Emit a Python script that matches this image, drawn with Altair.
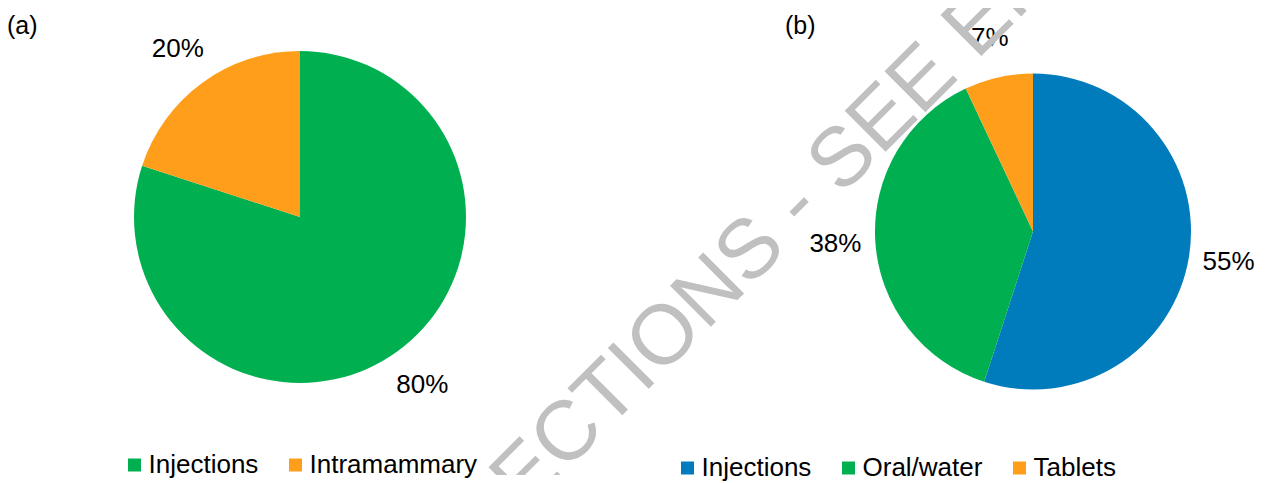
import altair as alt
import pandas as pd

# ---- data ----
a_cats = ["Injections", "Intramammary"]
a_vals = [80, 20]
a_labels = ["80%", "20%"]
a_colors = ["#00B050", "#FF9E1B"]

b_cats = ["Injections", "Oral/water", "Tablets"]
b_vals = [55, 38, 7]
b_labels = ["55%", "38%", "7%"]
b_colors = ["#007BBB", "#00B050", "#FF9E1B"]

panel_tags = ["(a)", "(b)"]
watermark = ["CORRECTIONS - SEE ERRATUM"]

FONT = "Liberation Sans"

dfa = pd.DataFrame({"cat": a_cats, "val": a_vals, "label": a_labels, "idx": list(range(len(a_cats)))})
dfb = pd.DataFrame({"cat": b_cats, "val": b_vals, "label": b_labels, "idx": list(range(len(b_cats)))})


def pie(df, cats, colors, cx, cy, r, lr, legx, legy):
    base = alt.Chart(df).encode(
        theta=alt.Theta("val:Q", stack=True),
        order=alt.Order("idx:Q"),
        x=alt.value(cx),
        y=alt.value(cy),
    )
    arc = base.mark_arc(outerRadius=r, strokeWidth=0).encode(
        color=alt.Color(
            "cat:N",
            sort=cats,
            scale=alt.Scale(domain=cats, range=colors),
            legend=alt.Legend(
                title=None,
                orient="none",
                legendX=legx,
                legendY=legy,
                direction="horizontal",
                columns=len(cats),
                symbolType="square",
                symbolSize=169,
                symbolStrokeWidth=0,
                labelFont=FONT,
                labelFontSize=26,
                labelColor="black",
                labelOffset=1,
                columnPadding=24,
                labelLimit=0,
                padding=0,
            ),
        )
    )
    txt = base.mark_text(radius=lr, fontSize=26, font=FONT, color="black",
                         align="center", baseline="middle").encode(
        text="label:N",
        detail="cat:N",
    )
    return arc, txt


arcA, txtA = pie(dfa, a_cats, a_colors, 292, 209, 166, 208, 113.5, 444)
arcB, txtB = pie(dfb, b_cats, b_colors, 1025, 223.5, 158, 198, 666.5, 447)

tagA = alt.Chart(pd.DataFrame({"t": [panel_tags[0]]})).mark_text(
    fontSize=25, font=FONT, color="black", align="left", baseline="alphabetic"
).encode(text="t:N", x=alt.value(-1), y=alt.value(26))
tagB = alt.Chart(pd.DataFrame({"t": [panel_tags[1]]})).mark_text(
    fontSize=25, font=FONT, color="black", align="left", baseline="alphabetic"
).encode(text="t:N", x=alt.value(777), y=alt.value(26))

wm = alt.Chart(pd.DataFrame({"t": watermark})).mark_text(
    angle=315, fontSize=84, font=FONT, color="#C0C0C0",
    align="center", baseline="middle", clip=True
).encode(text="t:N", x=alt.value(782), y=alt.value(204))

chart = alt.layer(arcA, txtA, arcB, txtB, tagA, tagB, wm).resolve_scale(
    color="independent", theta="independent"
).properties(
    width=1258, height=467,
    padding={"left": 0, "top": 0, "right": 0, "bottom": 8},
    autosize=alt.AutoSizeParams(type="none"),
).configure_view(stroke=None)

chart.save("out.html", embed_options={"renderer": "svg", "actions": False})
